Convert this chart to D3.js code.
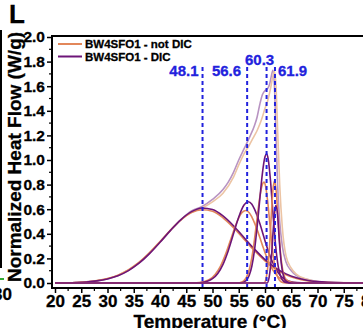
<!DOCTYPE html>
<html><head><meta charset="utf-8">
<script src="https://cdn.jsdelivr.net/npm/d3@7"></script>
<style>
html,body{margin:0;padding:0;background:#fff;}
svg{display:block;font-family:"Liberation Sans",Arial,sans-serif;font-weight:bold;}
</style></head>
<body>
<svg id="c" width="363" height="328"></svg>
<script>
// ---- data ----
const xTicks = [20,25,30,35,40,45,50,55,60,65,70,75,80];
const yTicks = [0.0,0.2,0.4,0.6,0.8,1.0,1.2,1.4,1.6,1.8,2.0];
const legendLabels = ["BW4SFO1 - not DIC","BW4SFO1 - DIC"];
const peakLabels = [48.1,56.6,60.3,61.9];

const dicTotal = [[20,0],[24,0.004],[28,0.017],[32,0.06],[36,0.161],[40,0.331],[44,0.516],[46,0.585],[48,0.622],[50,0.68],[52,0.76],[53,0.82],[54,0.9],[55,1.0],[56,1.09],[57,1.18],[58,1.28],[58.5,1.35],[59,1.45],[59.5,1.53],[60,1.565],[60.5,1.58],[60.9,1.62],[61.2,1.68],[61.5,1.73],[61.8,1.6],[62.1,1.2],[62.4,0.8],[62.8,0.5],[63.3,0.3],[64,0.17],[65,0.1],[66,0.06],[68,0.03],[70,0.012],[72,0.005],[75,0.001],[80,0]];
const notDicTotal = [[20,0],[24,0.004],[28,0.019],[32,0.064],[36,0.168],[40,0.336],[44,0.513],[46,0.575],[48,0.61],[50,0.66],[52,0.73],[54,0.86],[55,0.96],[56,1.05],[57,1.12],[58,1.2],[58.5,1.24],[59,1.29],[59.5,1.35],[60,1.42],[60.5,1.48],[61,1.57],[61.5,1.68],[61.8,1.72],[62.1,1.6],[62.4,1.25],[62.8,0.8],[63.3,0.45],[64,0.22],[65,0.12],[66,0.07],[68,0.03],[70,0.012],[72,0.005],[80,0]];

const notDicBroad = [[20,0],[24,0.004],[26,0.009],[28,0.019],[30,0.036],[32,0.064],[34,0.107],[36,0.168],[38,0.246],[40,0.336],[42,0.43],[44,0.513],[46,0.572],[48,0.595],[50,0.583],[52,0.53],[54,0.45],[56,0.356],[58,0.262],[60,0.18],[62,0.113],[64,0.066],[66,0.036],[68,0.018],[70,0.008],[72,0.003],[75,0.001],[80,0]];
const dicBroad = [[20,0],[24,0.0035],[26,0.008],[28,0.017],[30,0.033],[32,0.059],[34,0.101],[36,0.161],[38,0.239],[40,0.331],[42,0.428],[44,0.516],[46,0.58],[48,0.61],[50,0.597],[52,0.545],[54,0.465],[56,0.37],[58,0.275],[60,0.19],[62,0.123],[64,0.074],[66,0.042],[68,0.022],[70,0.011],[72,0.005],[75,0.001],[80,0]];

const notDicPeak2 = [[20,0],[46.5,0],[47.5,0.004],[48.5,0.013],[49.5,0.031],[50.5,0.07],[51.5,0.136],[52.5,0.235],[53.5,0.358],[54.5,0.48],[55.5,0.567],[56.3,0.59],[57,0.572],[57.5,0.536],[58.5,0.434],[59.5,0.308],[60.5,0.192],[61.5,0.105],[62.5,0.051],[63.5,0.021],[64.5,0.008],[65.5,0.003],[67,0],[80,0]];
const dicPeak2 = [[20,0],[47,0],[48,0.005],[49,0.014],[50,0.035],[51,0.078],[52,0.152],[53,0.263],[54,0.4],[55,0.537],[56,0.634],[56.8,0.66],[57.5,0.64],[58,0.6],[59,0.485],[60,0.344],[61,0.215],[62,0.118],[63,0.057],[64,0.024],[65,0.009],[66,0.003],[68,0],[80,0]];

const notDicPeak3 = [[20,0],[55,0],[55.5,0.007],[56,0.02],[56.5,0.049],[57,0.108],[57.5,0.208],[58,0.355],[58.5,0.53],[59,0.695],[59.5,0.8],[59.8,0.82],[60.1,0.79],[60.5,0.668],[61,0.45],[61.5,0.246],[62,0.109],[62.5,0.039],[63,0.012],[63.5,0.003],[64.5,0],[80,0]];
const dicPeak3 = [[20,0],[55.5,0],[56,0.009],[56.5,0.025],[57,0.063],[57.5,0.138],[58,0.267],[58.5,0.455],[59,0.678],[59.5,0.89],[60,1.026],[60.3,1.05],[60.6,1.01],[61,0.856],[61.5,0.576],[62,0.315],[62.5,0.14],[63,0.05],[63.5,0.015],[64,0.004],[65,0],[80,0]];

const notDicPeak4 = [[20,0],[59.8,0],[60.3,0.06],[60.8,0.25],[61.2,0.55],[61.5,0.75],[61.8,0.83],[62.1,0.76],[62.5,0.52],[62.9,0.27],[63.4,0.1],[64,0.03],[65,0.005],[66,0],[80,0]];
const dicPeak4 = [[20,0],[60.4,0],[60.8,0.05],[61.2,0.2],[61.6,0.45],[61.9,0.6],[62.1,0.63],[62.4,0.55],[62.7,0.36],[63.1,0.16],[63.5,0.06],[64,0.015],[65,0],[80,0]];

// ---- drawing ----
const C = {orange:"#e2875a", purple:"#6d1578", lightOrange:"#ecc4a4", lightPurple:"#b893c2", blue:"#2222dd"};
const svg = d3.select("#c");
const x = d3.scaleLinear().domain([20,80]).range([55,370]);
const y = d3.scaleLinear().domain([0,2]).range([283,37]);
const pL = 52, pR = 372, pT = 36, pB = 288;
const heavy = sel => sel.attr("stroke","currentColor").attr("stroke-width",0.3);

// neighbour panel remnants at left edge
svg.append("line").attr("x1",1).attr("x2",1).attr("y1",30).attr("y2",268).attr("stroke","#000").attr("stroke-width",2);
svg.append("line").attr("x1",0).attr("x2",4).attr("y1",279).attr("y2",279).attr("stroke","#3a3").attr("stroke-width",2);
svg.append("text").attr("x",12).attr("y",300).attr("text-anchor","end").attr("font-size",17).text("30").call(heavy);

svg.append("text").attr("x",9).attr("y",23).attr("font-size",26).text("L").call(heavy);

svg.append("defs").append("clipPath").attr("id","clip").append("rect")
  .attr("x",pL).attr("y",pT).attr("width",pR-pL).attr("height",pB-pT);

const line = d3.line().x(d=>x(d[0])).y(d=>y(d[1])).curve(d3.curveMonotoneX);
const g = svg.append("g").attr("clip-path","url(#clip)");
const series = [
  [dicTotal, C.lightPurple],[notDicTotal, C.lightOrange],
  [notDicBroad, C.orange],[dicBroad, C.purple],
  [notDicPeak2, C.orange],[dicPeak2, C.purple],
  [notDicPeak3, C.orange],[dicPeak3, C.purple],
  [notDicPeak4, C.orange],[dicPeak4, C.purple]
];
series.forEach(([d,c])=>{
  g.append("path").attr("d",line(d)).attr("fill","none").attr("stroke",c).attr("stroke-width",1.6);
});

// dashed peak lines
peakLabels.forEach(v=>{
  svg.append("line").attr("x1",x(v)).attr("x2",x(v)).attr("y1",67).attr("y2",pB)
    .attr("stroke",C.blue).attr("stroke-width",2).attr("stroke-dasharray","4,3");
});
const labelPos = [{a:"end",dx:-4,yy:76},{a:"end",dx:-6,yy:76},{a:"middle",dx:-7,yy:65},{a:"start",dx:3,yy:76}];
peakLabels.forEach((v,i)=>{
  svg.append("text").attr("x",x(v)+labelPos[i].dx).attr("y",labelPos[i].yy)
    .attr("text-anchor",labelPos[i].a).attr("font-size",15).attr("fill",C.blue).style("color",C.blue).text(v.toFixed(1)).call(heavy);
});

// frame
svg.append("line").attr("x1",pL).attr("x2",pR).attr("y1",pT).attr("y2",pT).attr("stroke","#000").attr("stroke-width",2);
// axes
const yAxis = d3.axisLeft(y).tickValues(yTicks).tickFormat(d3.format(".1f")).tickSize(5).tickPadding(2);
const ya = svg.append("g").attr("transform",`translate(${pL},0)`).call(yAxis);
ya.select(".domain").remove();
ya.selectAll("text").attr("font-size",15.5).attr("font-family","Liberation Sans, Arial").attr("font-weight","bold").attr("fill","#000").style("color","#000").call(heavy);
ya.selectAll("line").attr("stroke-width",1.5);
const yMinor = d3.range(0.1,2.0,0.2);
svg.append("g").selectAll("line").data(yMinor).join("line")
  .attr("x1",pL-3).attr("x2",pL).attr("y1",d=>y(d)).attr("y2",d=>y(d)).attr("stroke","#000").attr("stroke-width",1.2);
svg.append("line").attr("x1",pL).attr("x2",pL).attr("y1",pT-1).attr("y2",pB+1).attr("stroke","#000").attr("stroke-width",2);

const xAxis = d3.axisBottom(x).tickValues(xTicks).tickFormat(d3.format("d")).tickSize(5).tickPadding(2);
const xa = svg.append("g").attr("transform",`translate(0,${pB})`).call(xAxis);
xa.select(".domain").remove();
xa.selectAll("text").attr("font-size",17).attr("font-family","Liberation Sans, Arial").attr("font-weight","bold").attr("fill","#000").style("color","#000").call(heavy);
xa.selectAll("line").attr("stroke-width",1.5);
const xMinor = d3.range(22.5,80,5);
svg.append("g").selectAll("line").data(xMinor).join("line")
  .attr("x1",d=>x(d)).attr("x2",d=>x(d)).attr("y1",pB).attr("y2",pB+3).attr("stroke","#000").attr("stroke-width",1.2);
svg.append("line").attr("x1",pL-1).attr("x2",pR).attr("y1",pB).attr("y2",pB).attr("stroke","#000").attr("stroke-width",2);

// axis titles
svg.append("text").attr("x",210).attr("y",328).attr("text-anchor","middle").attr("font-size",19).text("Temperature (°C)").call(heavy);
svg.append("text").attr("transform","translate(21,157) rotate(-90)").attr("text-anchor","middle").attr("font-size",19).text("Normalized Heat Flow (W/g)").call(heavy);

// legend
const lg = svg.append("g");
[[C.orange,48,legendLabels[0]],[C.purple,60.5,legendLabels[1]]].forEach(([c,yy,t])=>{
  lg.append("line").attr("x1",58).attr("x2",82).attr("y1",yy-4).attr("y2",yy-4).attr("stroke",c).attr("stroke-width",2);
  lg.append("text").attr("x",85).attr("y",yy).attr("font-size",11.5).text(t).call(heavy);
});
</script>
</body></html>
